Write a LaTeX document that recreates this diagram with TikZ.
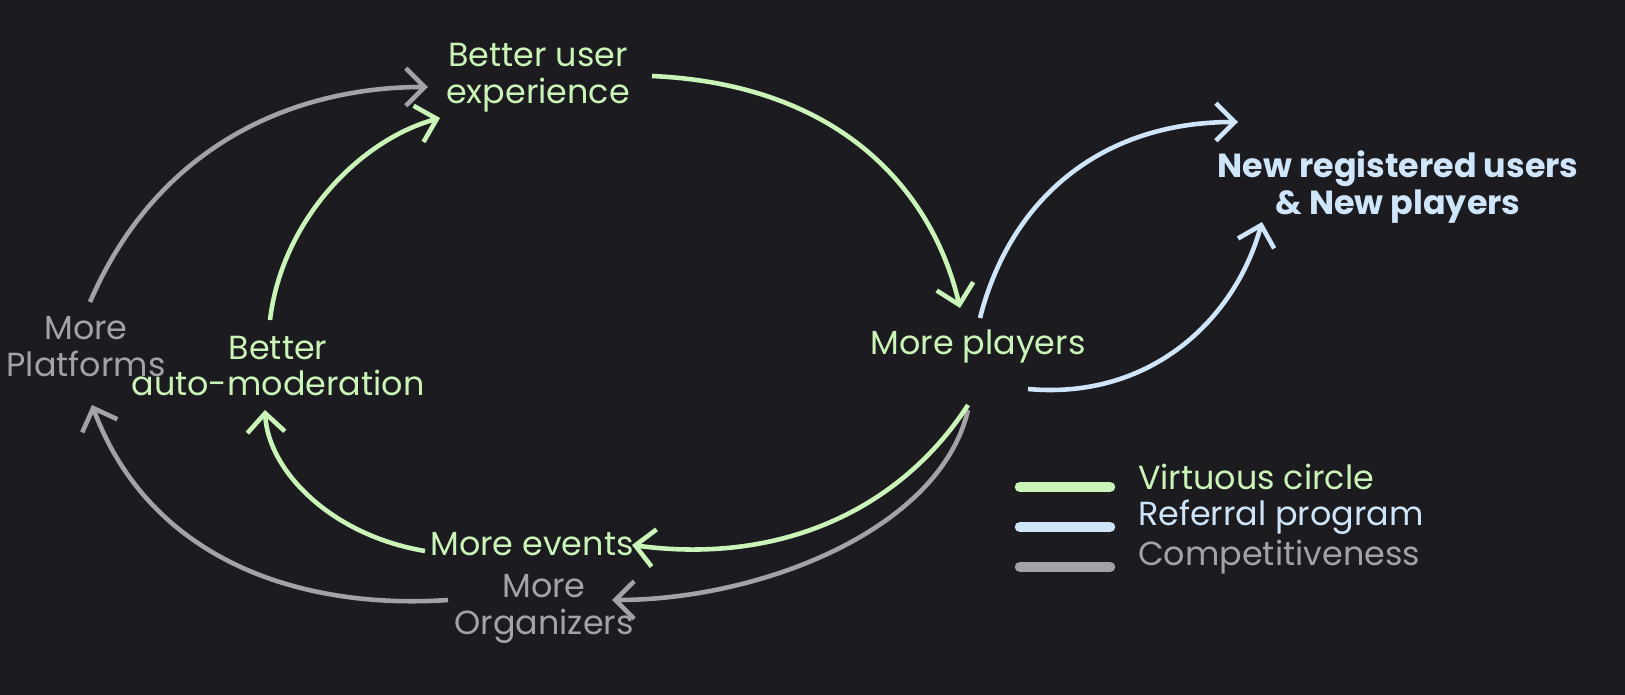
\documentclass[tikz,border=0pt]{standalone}
\usepackage{fontspec}
\setmainfont{Poppins}
\usetikzlibrary{arrows.meta}
\definecolor{bg}{HTML}{1C1C20}
\definecolor{vgreen}{HTML}{CBF5B8}
\definecolor{rblue}{HTML}{CFE5FA}
\definecolor{cgray}{HTML}{A3A2A6}
\tikzstyle{lbl} = [align=center, font=\fontsize{19}{21}\selectfont, inner sep=1pt]
\tikzstyle{flow} = [line width=2.6pt, -{Straight Barb[length=3.8mm, width=7.5mm, line width=2.6pt]}]

\begin{document}
\begin{tikzpicture}[x=0.02cm, y=-0.02cm]
\fill[bg] (0,0) rectangle (1625,695);
\useasboundingbox (0,0) rectangle (1625,695);
% nodes
\node (bux) [lbl, text=vgreen] at (538,78) {Better user\\experience};
\node (mp) [lbl, text=vgreen] at (978,346) {More players};
\node (nru) [lbl, text=rblue, font=\fontsize{19}{21}\selectfont\bfseries] at (1398,187) {New registered users\\\& New players};
\node (bam) [lbl, text=vgreen] at (278,366) {Better\\auto-moderation};
\node (mpl) [lbl, text=cgray] at (86,347) {More\\Platforms};
\node (me) [lbl, text=vgreen] at (532,544) {More events};
\node (mo) [lbl, text=cgray] at (544,609) {More\\Organizers};
% connector ends
\coordinate (a1) at (652,76);
\coordinate (a2) at (960,308);
\coordinate (b1) at (968,405);
\coordinate (b2) at (632,545);
\coordinate (c1) at (425,551);
\coordinate (c2) at (265,410);
\coordinate (d1) at (270,320);
\coordinate (d2) at (440,118);
\coordinate (e1) at (90,302);
\coordinate (e2) at (428,87);
\coordinate (f1) at (448,600);
\coordinate (f2) at (92,405);
\coordinate (g1) at (968,410);
\coordinate (g2) at (612,600);
\coordinate (h1) at (980,318);
\coordinate (h2) at (1238,122);
\coordinate (i1) at (1028,389);
\coordinate (i2) at (1262,222);
% competitiveness
\draw [flow, cgray] (e1) .. controls (160,140) and (300,87) .. (e2);
\draw [flow, cgray] (f1) .. controls (300,610) and (150,560) .. (f2);
\draw [flow, cgray] (g1) .. controls (940,530) and (760,600) .. (g2);
% virtuous circle
\draw [flow, vgreen] (a1) .. controls (850,85) and (935,200) .. (a2);
\draw [flow, vgreen] (b1) .. controls (900,510) and (780,565) .. (b2);
\draw [flow, vgreen] (c1) .. controls (330,535) and (268,470) .. (c2);
\draw [flow, vgreen] (d1) .. controls (282,220) and (360,140) .. (d2);
% referral program
\draw [flow, rblue] (h1) .. controls (1010,200) and (1100,122) .. (h2);
\draw [flow, rblue] (i1) .. controls (1150,400) and (1235,320) .. (i2);
% legend
\foreach \yy/\cc/\tt in {487/vgreen/Virtuous circle, 527/rblue/Referral program, 567/cgray/Competitiveness} {
  \draw [\cc, line width=6pt, line cap=round] (1020,\yy) -- (1110,\yy);
  \node [lbl, text=\cc, anchor=west] at (1136,\yy-10) {\tt};
}
\end{tikzpicture}
\end{document}
